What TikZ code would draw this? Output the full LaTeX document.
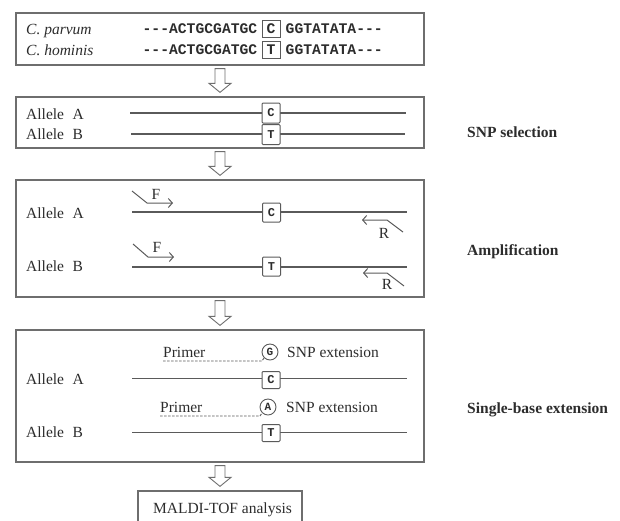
\documentclass[tikz,border=0pt]{standalone}
\usepackage{fontspec}
\setmainfont{Liberation Serif}
\setmonofont{Liberation Mono}
\usetikzlibrary{positioning,calc,arrows.meta}
\definecolor{framegray}{HTML}{6E6E6E}
\definecolor{linegray}{HTML}{5A5A5A}
\definecolor{inkgray}{HTML}{2C2C2C}
\tikzset{>={Straight Barb[length=4pt,width=9pt]}}
\tikzset{
  panel/.style={draw=framegray, line width=1.3pt, minimum width=408pt, inner sep=0pt},
  txt/.style={inner sep=0pt, text=inkgray, font=\fontsize{15.5}{18}\selectfont},
  steptitle/.style={txt, font=\fontsize{15.5}{18}\selectfont\bfseries, anchor=base west},
  seqtxt/.style={inner sep=0pt, text=inkgray, font=\fontsize{14.7}{16}\selectfont\ttfamily\bfseries},
  seqbase/.style={seqtxt, draw=linegray, line width=1pt, minimum width=18pt, minimum height=17pt},
  snpbox/.style={draw=linegray, line width=1pt, fill=white, inner sep=0pt, minimum width=18pt,
    minimum height=19pt, rounded corners=1pt, text=inkgray, font=\fontsize{12}{14}\selectfont\ttfamily\bfseries},
  snpball/.style={circle, draw=linegray, line width=0.9pt, fill=white, inner sep=0pt, minimum size=16pt,
    text=inkgray, font=\fontsize{11}{13}\selectfont\ttfamily\bfseries},
  strand/.style={draw=linegray, line width=1.3pt},
  primer/.style={draw=linegray, line width=1pt, ->},
  probe/.style={draw=linegray, line width=0.9pt, dash pattern=on 2.5pt off 1.5pt},
  flowline/.style={draw=framegray, line width=0.9pt, fill=white},
}
% hollow block arrow between two panels
\newcommand{\flowarrow}[2]{%
  \path[flowline] let \p1=($(#1.south)+(0,3)$), \p2=($(#2.north)+(0,-4)$) in
    (\x1-5pt,\y1) -- (\x1+5pt,\y1) -- (\x1+5pt,\y2+9pt) -- (\x1+11pt,\y2+9pt)
    -- (\x1,\y2) -- (\x1-11pt,\y2+9pt) -- (\x1-5pt,\y2+9pt) -- cycle;}

\begin{document}
\begin{tikzpicture}[x=1pt, y=-1pt]
  \useasboundingbox (0,0) rectangle (620,520);
  \clip (0,0) rectangle (620,520);

  % sequences
  \node[panel, minimum height=52pt] (seq) at (220,39) {};
  \node[txt, anchor=base west] (cp) at (26,34) {\itshape C. parvum};
  \node[txt, anchor=base west] (ch) at (26,55) {\itshape C. hominis};
  \node[seqbase] (cpC) at (271,29) {C};
  \node[seqtxt, left=4pt of cpC] (cpL) {---ACTGCGATGC};
  \node[seqtxt, right=5pt of cpC] (cpR) {GGTATATA---};
  \node[seqbase] (chT) at (271,50) {T};
  \node[seqtxt, left=4pt of chT] (chL) {---ACTGCGATGC};
  \node[seqtxt, right=5pt of chT] (chR) {GGTATATA---};

  % SNP selection
  \node[panel, minimum height=51pt] (sel) at (220,122.5) {};
  \node[txt, anchor=base west] (selA) at (26,119) {Allele\hspace{0.55em}A};
  \node[txt, anchor=base west] (selB) at (26,139) {Allele\hspace{0.55em}B};
  \draw[strand] (130,113) -- (406,113);
  \draw[strand] (131,134) -- (405,134);
  \node[snpbox, minimum height=20pt] (selC) at (271,113) {C};
  \node[snpbox, minimum height=20pt] (selT) at (271,134.5) {T};
  \node[steptitle] (tsel) at (467,137) {SNP selection};

  % amplification
  \node[panel, minimum height=117pt] (amp) at (220,238.5) {};
  \node[txt, anchor=base west] (ampA) at (26,218) {Allele\hspace{0.55em}A};
  \node[txt, anchor=base west] (ampB) at (26,271) {Allele\hspace{0.55em}B};
  \draw[strand] (132,212) -- (407,212);
  \draw[strand] (132,267) -- (407,267);
  \node[snpbox] (ampC) at (271.5,212.5) {C};
  \node[snpbox] (ampT) at (271.5,266.5) {T};
  \draw[primer] (132,191) -- (147,203) -- (173,203);
  \node[txt, anchor=base] (fA) at (156,199) {F};
  \draw[primer] (403,232) -- (387,220) -- (362,220);
  \node[txt, anchor=base] (rA) at (384,238) {R};
  \draw[primer] (133,244) -- (148,257) -- (174,257);
  \node[txt, anchor=base] (fB) at (157,252) {F};
  \draw[primer] (404,286) -- (387,273) -- (363,273);
  \node[txt, anchor=base] (rB) at (387,289) {R};
  \node[steptitle] (tamp) at (467,255) {Amplification};

  % single-base extension
  \node[panel, minimum height=132pt] (ext) at (220,396) {};
  \node[txt, anchor=base west] (extA) at (26,384) {Allele\hspace{0.55em}A};
  \node[txt, anchor=base west] (extB) at (26,437) {Allele\hspace{0.55em}B};
  \draw[strand] (132,378.5) -- (407,378.5);
  \draw[strand] (132,432.5) -- (407,432.5);
  \node[snpbox, minimum height=17pt] (extC) at (271,380) {C};
  \node[snpbox, minimum height=17pt] (extT) at (271,433) {T};
  \node[snpball] (ballG) at (270,352) {G};
  \node[txt, anchor=base west] (pA) at (163,357.5) {Primer};
  \node[txt, anchor=base west] (snpA) at (287,357.5) {SNP extension};
  \draw[probe] (163,361) -- (262,361) -- (ballG.225);
  \node[snpball] (ballA) at (268,407) {A};
  \node[txt, anchor=base west] (pB) at (160,412) {Primer};
  \node[txt, anchor=base west] (snpB) at (286,412) {SNP extension};
  \draw[probe] (160,416) -- (260,416) -- (ballA.225);
  \node[steptitle] (text) at (467,413) {Single-base extension};

  % MALDI-TOF
  \node[draw=framegray, line width=1.3pt, minimum width=164pt, minimum height=36pt, inner sep=0pt] (maldi) at (220,509) {};
  \node[txt, anchor=base] (tmaldi) at (222.5,513) {MALDI-TOF analysis};

  \flowarrow{seq}{sel}
  \flowarrow{sel}{amp}
  \flowarrow{amp}{ext}
  \flowarrow{ext}{maldi}
\end{tikzpicture}
\end{document}
